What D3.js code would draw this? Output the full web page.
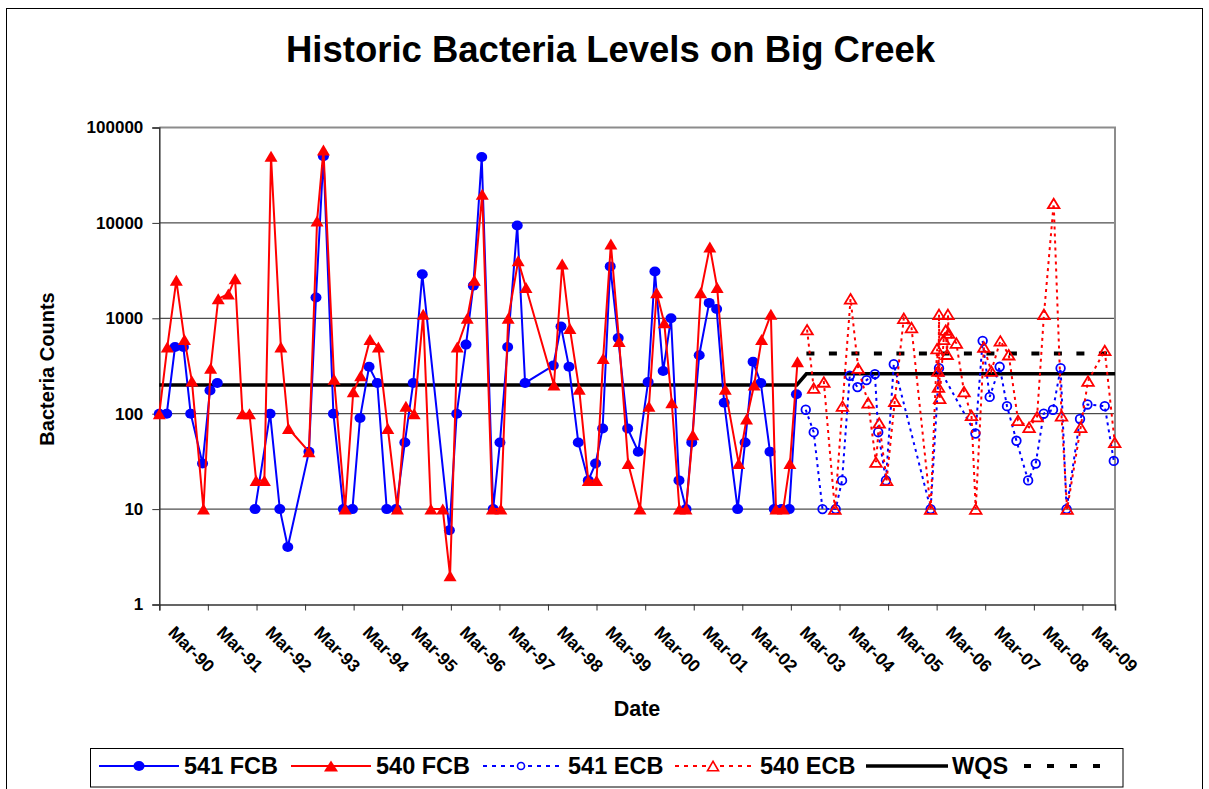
<!DOCTYPE html>
<html>
<head>
<meta charset="utf-8">
<script src="https://cdn.jsdelivr.net/npm/d3@7"></script>
<style>
  html, body { margin: 0; padding: 0; background: #fff; }
  svg { display: block; font-family: "Liberation Sans", Arial, sans-serif; }
</style>
</head>
<body>
<svg id="chart" width="1209" height="789"></svg>
<script>
// ---------------- DATA ----------------
// null marks a missing sample (gap in the line)
const fcb541Dates = ["1990-03-01","1990-04-26","1990-06-27","1990-08-29","1990-10-23","1991-01-20","1991-03-17","1991-05-11","1991-09-01","1992-02-19","1992-06-11","1992-08-23","1992-10-22","1993-03-30","1993-05-22","1993-07-17","1993-09-30","1993-12-14","1994-02-20","1994-04-18","1994-06-25","1994-08-26","1994-11-05","1995-01-14","1995-03-21","1995-05-23","1995-07-30","1996-02-19","1996-04-14","1996-06-23","1996-08-17","1996-10-19","1997-01-13","1997-03-05","1997-05-02","1997-07-13","1997-09-10","1998-04-10","1998-06-07","1998-08-06","1998-10-15","1998-12-29","1999-02-22","1999-04-16","1999-06-12","1999-08-11","1999-10-21","2000-01-09","2000-03-23","2000-05-13","2000-07-14","2000-09-11","2000-11-10","2001-01-02","2001-02-14","2001-04-11","2001-06-25","2001-08-20","2001-10-16","2002-01-25","2002-03-22","2002-05-21","2002-07-18","2002-09-25","2002-10-27","2002-12-21","2003-02-17","2003-04-12"];
const fcb541Values = [100,100,500,500,100,30,175,210,null,10,100,10,4,40,1650,50000,100,10,10,90,310,210,10,10,50,210,2900,6,100,530,2200,49000,10,50,500,9400,210,320,820,310,50,20,30,70,3500,620,70,40,215,3100,280,1000,20,10,50,410,1450,1250,130,10,50,350,210,40,10,10,10,160];

const fcb540Dates = ["1990-03-01","1990-04-30","1990-07-07","1990-09-06","1990-11-01","1991-01-27","1991-03-22","1991-05-18","1991-08-02","1991-09-22","1991-11-16","1992-01-08","1992-02-27","1992-04-29","1992-06-18","1992-08-31","1992-10-27","1993-03-30","1993-05-30","1993-07-17","1993-10-05","1993-12-27","1994-02-26","1994-04-23","1994-07-02","1994-09-03","1994-11-13","1995-01-24","1995-03-29","1995-05-30","1995-08-06","1995-10-03","1995-12-31","1996-02-24","1996-04-18","1996-07-02","1996-08-24","1996-10-23","1997-01-07","1997-03-12","1997-05-06","1997-07-20","1997-09-17","1998-04-15","1998-06-16","1998-08-13","1998-10-22","1998-12-29","1999-03-01","1999-04-20","1999-06-17","1999-08-18","1999-10-25","2000-01-22","2000-03-29","2000-05-26","2000-07-22","2000-09-17","2000-11-13","2001-01-02","2001-02-22","2001-04-22","2001-06-30","2001-08-24","2001-10-24","2002-02-02","2002-04-02","2002-05-29","2002-07-24","2002-10-02","2002-11-09","2003-01-03","2003-02-22","2003-04-20"];
const fcb540Values = [100,500,2500,600,220,10,300,1600,1800,2600,100,100,20,20,50000,500,70,40,10500,58000,230,10,170,250,600,500,70,10,120,100,1100,10,10,2,500,1000,2500,20000,10,10,1000,4000,2100,200,3700,780,180,20,20,380,6000,570,30,10,120,1850,900,130,10,10,60,1850,5600,2100,180,30,88,200,600,1100,10,10,30,350];

const ecb541Dates = ["2003-06-21","2003-08-20","2003-10-25","2004-02-01","2004-03-20","2004-05-17","2004-07-14","2004-09-20","2004-11-22","2004-12-17","2005-02-13","2005-04-13","2006-01-15","2006-03-19","2006-12-18","2007-02-10","2007-04-04","2007-06-18","2007-08-12","2007-10-22","2008-01-18","2008-03-15","2008-05-14","2008-07-23","2008-09-18","2008-11-02","2009-02-11","2009-04-08","2009-08-16","2009-10-23"];
const ecb541Values = [110,64,10,10,20,250,190,225,260,64,20,330,10,300,62,580,150,310,120,52,20,30,100,110,300,10,88,125,120,32];

const ecb540Dates = ["2003-07-01","2003-08-20","2003-11-04","2004-01-26","2004-03-23","2004-05-23","2004-07-19","2004-10-02","2004-11-30","2004-12-24","2005-02-18","2005-04-20","2005-06-27","2005-08-24","2006-01-15","2006-03-04","2006-03-11","2006-03-15","2006-03-19","2006-03-24","2006-04-23","2006-05-08","2006-05-19","2006-05-25","2006-05-30","2006-07-27","2006-09-23","2006-11-18","2006-12-20","2007-02-19","2007-04-16","2007-06-23","2007-08-25","2007-11-03","2008-01-25","2008-03-25","2008-05-16","2008-07-28","2008-09-25","2008-11-06","2009-02-16","2009-04-12","2009-08-16","2009-10-30"];
const ecb540Values = [760,185,215,10,120,1600,300,130,31,80,20,135,1000,800,10,480,280,190,1100,145,600,750,420,1100,700,550,170,96,10,500,280,580,415,85,72,93,1100,16000,95,10,72,220,460,50];

const wqsDates = ["1990-03-01","2003-04-15","2003-06-26","2009-11-01"];
const wqsValues = [200,200,262,262];
const wqs2Dates = ["2003-06-26","2009-09-22"];
const wqs2Values = [427,427];

const yTickValues = [1,10,100,1000,10000,100000];
const xTickYears = ["1990-03-01","1991-03-01","1992-03-01","1993-03-01","1994-03-01","1995-03-01","1996-03-01","1997-03-01","1998-03-01","1999-03-01","2000-03-01","2001-03-01","2002-03-01","2003-03-01","2004-03-01","2005-03-01","2006-03-01","2007-03-01","2008-03-01","2009-03-01"];
const xDomain = ["1990-03-01","2009-11-01"];

const legendLabels = ["541 FCB","540 FCB","541 ECB","540 ECB","WQS",""];
const titleText = "Historic Bacteria Levels on Big Creek";
const yTitle = "Bacteria Counts";
const xTitle = "Date";

// ---------------- CHART ----------------
const parse = d3.utcParse("%Y-%m-%d");
const svg = d3.select("#chart");
const L = 159.3, R = 1115, T = 127.5, B = 604.5;

const x = d3.scaleUtc().domain(xDomain.map(parse)).range([L, R]);
const y = d3.scaleLog().domain([1, 100000]).range([B, T]);

const zip = (ds, vs) => ds.map((d, i) => ({ date: parse(d), value: vs[i] }));
const s541 = zip(fcb541Dates, fcb541Values);
const s540 = zip(fcb540Dates, fcb540Values);
const e541 = zip(ecb541Dates, ecb541Values);
const e540 = zip(ecb540Dates, ecb540Values);
const wqs = zip(wqsDates, wqsValues);
const wqs2 = zip(wqs2Dates, wqs2Values);
const has = d => d.value != null;

// outer frame
svg.append("rect").attr("x", 6.5).attr("y", 8.5).attr("width", 1196).attr("height", 800)
  .attr("fill", "none").attr("stroke", "#000").attr("stroke-width", 1);

// title
svg.append("text").attr("x", 610.5).attr("y", 62).attr("text-anchor", "middle")
  .attr("font-size", 36.5).attr("font-weight", "bold").text(titleText);

// gridlines
svg.append("g").selectAll("line").data(yTickValues.filter(v => v > 1 && v < 100000)).join("line")
  .attr("x1", L).attr("x2", R).attr("y1", d => y(d)).attr("y2", d => y(d))
  .attr("stroke", "#222").attr("stroke-width", 1);

// plot border top/right
svg.append("path").attr("d", `M${L},${T}H${R}V${B}`).attr("fill", "none")
  .attr("stroke", "#8c8c8c").attr("stroke-width", 2);

// y axis
const gy = svg.append("g").attr("transform", `translate(${L},0)`)
  .call(d3.axisLeft(y).tickValues(yTickValues).tickFormat(d3.format("d")).tickSize(7).tickPadding(9));
gy.select(".domain").attr("stroke", "#333").attr("stroke-width", 1.5);
gy.selectAll(".tick line").attr("stroke", "#333");
gy.selectAll(".tick text").attr("font-size", 17).attr("font-weight", "bold")
  .attr("font-family", "Liberation Sans, Arial, sans-serif").attr("fill", "#000");

// x axis
const gx = svg.append("g").attr("transform", `translate(0,${B})`)
  .call(d3.axisBottom(x).tickValues(xTickYears.map(parse)).tickFormat(d3.utcFormat("%b-%y")).tickSize(6));
gx.select(".domain").attr("stroke", "#333").attr("stroke-width", 1.5);
gx.selectAll(".tick line").attr("stroke", "#333");
gx.selectAll(".tick text").attr("y", null).attr("dy", null).attr("x", null)
  .attr("text-anchor", "start").attr("transform", "translate(7.5,29) rotate(45)")
  .attr("font-size", 17.5).attr("font-weight", "bold")
  .attr("font-family", "Liberation Sans, Arial, sans-serif").attr("fill", "#000");

// axis titles
svg.append("text").attr("transform", "translate(54,369) rotate(-90)").attr("text-anchor", "middle")
  .attr("font-size", 20).attr("font-weight", "bold").text(yTitle);
svg.append("text").attr("x", 637).attr("y", 716).attr("text-anchor", "middle")
  .attr("font-size", 21.5).attr("font-weight", "bold").text(xTitle);

const line = d3.line().defined(has).x(d => x(d.date)).y(d => y(d.value));
const plot = svg.append("g");

// WQS lines
plot.append("path").datum(wqs).attr("d", line).attr("fill", "none")
  .attr("stroke", "#000").attr("stroke-width", 3.5);
plot.append("path").datum(wqs2).attr("d", line).attr("fill", "none")
  .attr("stroke", "#000").attr("stroke-width", 4).attr("stroke-dasharray", "8,14.5");

const tri = (w, h) => `M0,${-h/2}L${w/2},${h/2}L${-w/2},${h/2}Z`;

// 541 FCB
plot.append("path").datum(s541).attr("d", line).attr("fill", "none")
  .attr("stroke", "#0000ff").attr("stroke-width", 2);
plot.append("g").selectAll("ellipse").data(s541.filter(has)).join("ellipse")
  .attr("cx", d => x(d.date)).attr("cy", d => y(d.value)).attr("rx", 5.5).attr("ry", 5)
  .attr("fill", "#0000ff");

// 540 FCB
plot.append("path").datum(s540).attr("d", line).attr("fill", "none")
  .attr("stroke", "#ff0000").attr("stroke-width", 2);
plot.append("g").selectAll("path").data(s540.filter(has)).join("path")
  .attr("transform", d => `translate(${x(d.date)},${y(d.value)})`)
  .attr("d", tri(13, 11)).attr("fill", "#ff0000");

// 541 ECB
plot.append("path").datum(e541).attr("d", line).attr("fill", "none")
  .attr("stroke", "#0000ff").attr("stroke-width", 2).attr("stroke-dasharray", "3,4");
plot.append("g").selectAll("circle").data(e541.filter(has)).join("circle")
  .attr("cx", d => x(d.date)).attr("cy", d => y(d.value)).attr("r", 4.3)
  .attr("fill", "none").attr("stroke", "#0000ff").attr("stroke-width", 1.8);

// 540 ECB
plot.append("path").datum(e540).attr("d", line).attr("fill", "none")
  .attr("stroke", "#ff0000").attr("stroke-width", 2).attr("stroke-dasharray", "3,4");
plot.append("g").selectAll("path").data(e540.filter(has)).join("path")
  .attr("transform", d => `translate(${x(d.date)},${y(d.value)})`)
  .attr("d", tri(11.5, 9.5)).attr("fill", "none").attr("stroke", "#ff0000").attr("stroke-width", 1.8);

// legend
const lg = svg.append("g");
lg.append("rect").attr("x", 90.5).attr("y", 748.5).attr("width", 1032.5).attr("height", 38.5)
  .attr("fill", "#fff").attr("stroke", "#000").attr("stroke-width", 1);
const ly = 766;
const legendItems = [
  { x0: 99, x1: 179, color: "#0000ff", dash: null, marker: "fcircle", tx: 184 },
  { x0: 291, x1: 371, color: "#ff0000", dash: null, marker: "ftri", tx: 376 },
  { x0: 483, x1: 559, color: "#0000ff", dash: "4,5", marker: "ocircle", tx: 568 },
  { x0: 675, x1: 751, color: "#ff0000", dash: "4,5", marker: "otri", tx: 760 },
  { x0: 866, x1: 948, color: "#000", dash: null, marker: null, tx: 952, w: 3.5 },
  { x0: 1024, x1: 1102, color: "#000", dash: "7,16", marker: null, tx: null, w: 4 }
];
legendItems.forEach((it, i) => {
  lg.append("line").attr("x1", it.x0).attr("x2", it.x1).attr("y1", ly).attr("y2", ly)
    .attr("stroke", it.color).attr("stroke-width", it.w || 2)
    .attr("stroke-dasharray", it.dash);
  const cx = (it.x0 + it.x1) / 2;
  if (it.marker === "fcircle") lg.append("ellipse").attr("cx", cx).attr("cy", ly).attr("rx", 5.5).attr("ry", 5).attr("fill", it.color);
  if (it.marker === "ftri") lg.append("path").attr("transform", `translate(${cx},${ly})`).attr("d", tri(14, 11)).attr("fill", it.color);
  if (it.marker === "ocircle") lg.append("circle").attr("cx", cx).attr("cy", ly).attr("r", 3.5).attr("fill", "#fff").attr("stroke", it.color).attr("stroke-width", 1.6);
  if (it.marker === "otri") lg.append("path").attr("transform", `translate(${cx},${ly})`).attr("d", tri(11, 9.5)).attr("fill", "#fff").attr("stroke", it.color).attr("stroke-width", 1.6);
  if (it.tx !== null && legendLabels[i]) lg.append("text").attr("x", it.tx).attr("y", 773.5)
    .attr("font-size", 23.5).attr("font-weight", "bold").text(legendLabels[i]);
});
</script>
</body>
</html>
